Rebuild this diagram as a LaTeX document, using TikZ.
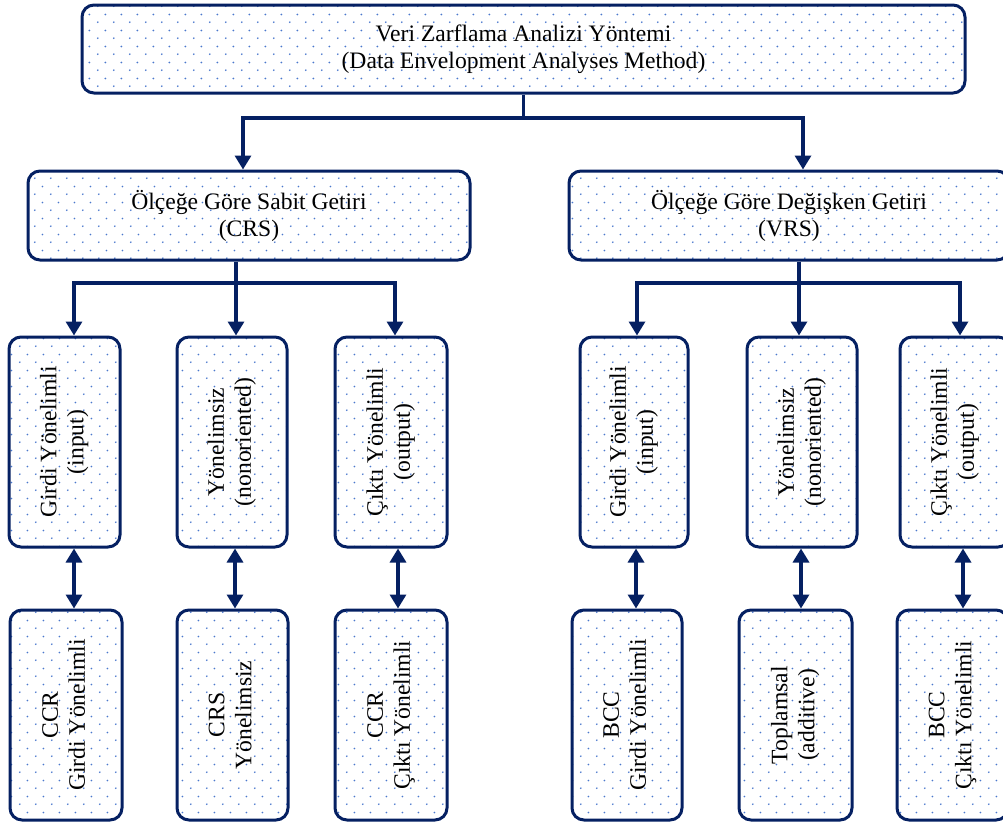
\documentclass[tikz,border=0pt]{standalone}
\usepackage{fontspec}
\usepackage{graphicx}
\setmainfont{Liberation Serif}
\usetikzlibrary{arrows.meta,patterns.meta}
\definecolor{navy}{RGB}{5,32,98}
\definecolor{dotblue}{RGB}{75,120,205}
\tikzdeclarepattern{
  name=bluedots,
  type=colored,
  bounding box={(0pt,0pt) and (15.6pt,15.6pt)},
  tile size={(15.6pt,15.6pt)},
  code={
    \fill[dotblue] (3.9pt,3.9pt) circle (0.95pt);
    \fill[dotblue] (11.7pt,11.7pt) circle (0.95pt);
  }
}
\newcommand{\rotlbl}[2]{\rotatebox{90}{\begin{tabular}{@{}c@{}}#1\\#2\end{tabular}}}
\begin{document}
\begin{tikzpicture}[x=1pt,y=-1pt,
  box/.style={draw=navy, line width=3pt, rounded corners=12pt, pattern=bluedots,
    align=center, font=\fontsize{23.6}{27}\selectfont, inner sep=0pt},
  vbox/.style={box, minimum height=210pt},
  conn/.style={draw=navy, line width=3.3pt},
  arr/.style={conn, -{Triangle[width=16pt,length=14pt]}},
  dbl/.style={conn, {Triangle[width=16pt,length=14pt]}-{Triangle[width=16pt,length=14pt]}}
]
\useasboundingbox (0,0) rectangle (1003,823);
\clip (0,0) rectangle (1003,823);

\node[box, minimum width=883pt, minimum height=88pt] (top) at (523.5,49)
  {Veri Zarflama Analizi Yöntemi\\(Data Envelopment Analyses Method)};

\node[box, minimum width=442pt, minimum height=89pt] (crs) at (249,215.5)
  {Ölçeğe Göre Sabit Getiri\\(CRS)};
\node[box, minimum width=440pt, minimum height=89pt] (vrs) at (789,215.5)
  {Ölçeğe Göre Değişken Getiri\\(VRS)};

\node[vbox, minimum width=111pt] (g1) at (64.5,442) {\rotlbl{Girdi Yönelimli}{(input)}};
\node[vbox, minimum width=110pt] (g2) at (232,442) {\rotlbl{Yönelimsiz}{(nonoriented)}};
\node[vbox, minimum width=112pt] (g3) at (391,442) {\rotlbl{Çıktı Yönelimli}{(output)}};
\node[vbox, minimum width=108pt] (g4) at (634,442) {\rotlbl{Girdi Yönelimli}{(input)}};
\node[vbox, minimum width=110pt] (g5) at (802,442) {\rotlbl{Yönelimsiz}{(nonoriented)}};
\node[vbox, minimum width=110pt] (g6) at (955,442) {\rotlbl{Çıktı Yönelimli}{(output)}};

\node[vbox, minimum width=112pt] (h1) at (66,715) {\rotlbl{CCR}{Girdi Yönelimli}};
\node[vbox, minimum width=111pt] (h2) at (232.5,715) {\rotlbl{CRS}{Yönelimsiz}};
\node[vbox, minimum width=112pt] (h3) at (391,715) {\rotlbl{CCR}{Çıktı Yönelimli}};
\node[vbox, minimum width=110pt] (h4) at (627,715) {\rotlbl{BCC}{Girdi Yönelimli}};
\node[vbox, minimum width=113pt] (h5) at (795.5,715) {\rotlbl{Toplamsal}{(additive)}};
\node[vbox, minimum width=111pt] (h6) at (952.5,715) {\rotlbl{BCC}{Çıktı Yönelimli}};

% top level connectors
\coordinate (j1) at (524,118);
\draw[arr] (top.south) -- (top.south |- j1) -| ([xshift=-6pt]crs.north);
\draw[arr] (top.south |- j1) -| ([xshift=14pt]vrs.north);

% CRS branch
\coordinate (j2) at (236,283);
\draw[conn] ([xshift=-13pt]crs.south) -- (j2);
\draw[arr] (j2) -| ([xshift=9.5pt]g1.north);
\draw[arr] (j2) -- ([xshift=4pt]g2.north);
\draw[arr] (j2) -| ([xshift=4pt]g3.north);

% VRS branch
\coordinate (j3) at (799,283);
\draw[conn] ([xshift=10pt]vrs.south) -- (j3);
\draw[arr] (j3) -| ([xshift=3pt]g4.north);
\draw[arr] (j3) -- ([xshift=-3pt]g5.north);
\draw[arr] (j3) -| ([xshift=5pt]g6.north);

% double arrows
\draw[dbl] ([xshift=9.5pt]g1.south) -- ([xshift=8pt]h1.north);
\draw[dbl] ([xshift=3pt]g2.south) -- ([xshift=2.5pt]h2.north);
\draw[dbl] ([xshift=7pt]g3.south) -- ([xshift=7pt]h3.north);
\draw[dbl] ([xshift=2pt]g4.south) -- ([xshift=9pt]h4.north);
\draw[dbl] ([xshift=-1pt]g5.south) -- ([xshift=5.5pt]h5.north);
\draw[dbl] ([xshift=8pt]g6.south) -- ([xshift=10.5pt]h6.north);
\end{tikzpicture}
\end{document}
